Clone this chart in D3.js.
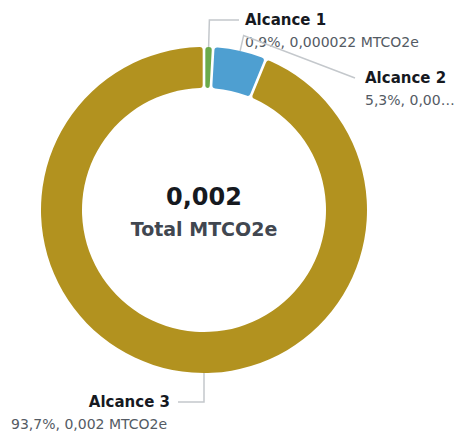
<!DOCTYPE html>
<html>
<head>
<meta charset="utf-8">
<script src="https://cdn.jsdelivr.net/npm/d3@7"></script>
<style>
  body { margin: 0; background: #fff; }
  text { font-family: "DejaVu Sans", "Noto Sans", sans-serif; }
</style>
</head>
<body>
<svg id="chart"></svg>
<script>
// scopes and their share of the total (percent)
var categories = ["Alcance 1", "Alcance 2", "Alcance 3"];
var percents = [0.9, 5.3, 93.7];
var valueLabels = ["0,9%, 0,000022 MTCO2e", "5,3%, 0,00…", "93,7%, 0,002 MTCO2e"];
var colors = ["#6aaa4b", "#4e9fd1", "#b2921f"];
var totalText = "0,002";
var totalLabel = "Total MTCO2e";

var width = 455;
var height = 433;
var cx = 204, cy = 210;
var outerR = 163, innerR = 122;

var svg = d3.select("svg#chart")
    .attr("width", width)
    .attr("height", height);

var g = svg.append("g")
    .attr("transform", "translate(" + cx + "," + cy + ")");

var pie = d3.pie()
    .sort(null)
    .startAngle(0)
    .endAngle(2 * Math.PI)
    .value(function(d) { return d; });

var arcs = pie(percents);

var arc = d3.arc()
    .innerRadius(innerR)
    .outerRadius(outerR)
    .padAngle(0.013)
    .cornerRadius(3);

g.selectAll("path.slice")
    .data(arcs)
    .enter().append("path")
    .attr("class", "slice")
    .attr("fill", function(d, i) { return colors[i]; })
    .attr("d", arc);

// center total
g.append("text")
    .attr("text-anchor", "middle")
    .attr("y", -5)
    .attr("fill", "#16191f")
    .style("font-size", "24px")
    .style("font-weight", "bold")
    .text(totalText);

g.append("text")
    .attr("text-anchor", "middle")
    .attr("y", 26)
    .attr("fill", "#414750")
    .style("font-size", "19px")
    .style("font-weight", "bold")
    .text(totalLabel);

// label layout: angle where leader leaves the ring, elbow, and label anchor
var mid = function(d) { return (d.startAngle + d.endAngle) / 2; };
var labelLayout = [
    { angle: mid, len: 27, end: [35, null], anchor: "start", tx: 41, sx: 41 },
    { angle: mid, len: 16, end: [151, -132], anchor: "start", tx: 161, sx: 161 },
    { angle: function() { return Math.PI; }, len: 29, end: [-26, null], anchor: "end", tx: -34, sx: -193 }
];

g.selectAll("g.label")
    .data(arcs)
    .enter().append("g")
    .attr("class", "label")
    .each(function(d, i) {
        var L = labelLayout[i];
        var a = L.angle(d);
        var p0 = [Math.sin(a) * outerR, -Math.cos(a) * outerR];
        var p1 = [Math.sin(a) * (outerR + L.len), -Math.cos(a) * (outerR + L.len)];
        var p2 = [L.end[0], L.end[1] === null ? p1[1] : L.end[1]];
        var sel = d3.select(this);
        sel.append("polyline")
            .attr("points", [p0, p1, p2].map(function(p) { return p.join(","); }).join(" "))
            .attr("fill", "none")
            .attr("stroke", "#c4c8cc")
            .attr("stroke-width", 1.5);
        sel.append("text")
            .attr("x", L.tx)
            .attr("y", p2[1] + 5)
            .attr("text-anchor", L.anchor)
            .attr("fill", "#16191f")
            .style("font-size", "15px")
            .style("font-weight", "bold")
            .text(categories[i]);
        sel.append("text")
            .attr("x", L.sx)
            .attr("y", p2[1] + 27)
            .attr("fill", "#545b64")
            .style("font-size", "14px")
            .text(valueLabels[i]);
    });
</script>
</body>
</html>
